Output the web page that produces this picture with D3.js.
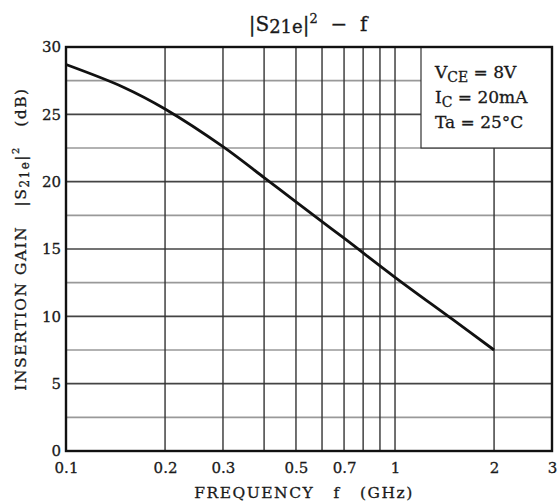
<!DOCTYPE html>
<html>
<head>
<meta charset="utf-8">
<script src="https://cdn.jsdelivr.net/npm/d3@7"></script>
<style>
  body { margin: 0; background: #fff; }
  text { font-family: "DejaVu Serif", "Liberation Serif", serif; fill: #1a1a1a; stroke: #1a1a1a; stroke-width: 0.3px; }
</style>
</head>
<body>
<div id="chart"></div>
<script>
// Curve values
const freqs = [0.1, 0.15, 0.2, 0.3, 0.4, 0.5, 0.7, 1, 1.5, 2];
const gains = [28.7, 27.0, 25.4, 22.6, 20.3, 18.5, 15.8, 12.9, 9.75, 7.5];

// Axis ticks and grid
const xTickValues = [0.1, 0.2, 0.3, 0.5, 0.7, 1, 2, 3];
const xGridValues = [0.2, 0.3, 0.4, 0.5, 0.6, 0.7, 0.8, 0.9, 1, 2];
const yTickValues = [0, 5, 10, 15, 20, 25, 30];
const yMinorValues = [2.5, 7.5, 12.5, 17.5, 22.5, 27.5];

const width = 557;
const height = 504;
const margin = {top: 47, right: 5, bottom: 53, left: 66};

const svg = d3.select("#chart")
  .append("svg")
  .attr("width", width)
  .attr("height", height);

const x = d3.scaleLog()
  .domain([0.1, 3])
  .range([margin.left, width - margin.right]);

const y = d3.scaleLinear()
  .domain([0, 30])
  .range([height - margin.bottom, margin.top]);

// Minor horizontal grid (lighter)
svg.selectAll("line.ymin")
  .data(yMinorValues)
  .enter()
  .append("line")
  .attr("x1", x(0.1)).attr("x2", x(3))
  .attr("y1", d => y(d)).attr("y2", d => y(d))
  .attr("stroke", "#999")
  .attr("stroke-width", 1.6);

// Major horizontal grid
svg.selectAll("line.ymaj")
  .data(yTickValues)
  .enter()
  .append("line")
  .attr("x1", x(0.1)).attr("x2", x(3))
  .attr("y1", d => y(d)).attr("y2", d => y(d))
  .attr("stroke", "#444")
  .attr("stroke-width", 1.6);

// Vertical grid
svg.selectAll("line.xg")
  .data(xGridValues)
  .enter()
  .append("line")
  .attr("x1", d => x(d)).attr("x2", d => x(d))
  .attr("y1", y(0)).attr("y2", y(30))
  .attr("stroke", "#333")
  .attr("stroke-width", 1.4);

// Condition box (covers grid in the top right)
const boxLeft = 421;
svg.append("rect")
  .attr("x", boxLeft)
  .attr("y", y(30))
  .attr("width", x(3) - boxLeft)
  .attr("height", y(22.5) - y(30))
  .attr("fill", "#fff")
  .attr("stroke", "#333")
  .attr("stroke-width", 1.2);

const cond = svg.append("g").attr("font-size", 17);
const c1 = cond.append("text").attr("x", 435).attr("y", 78);
c1.append("tspan").text("V");
c1.append("tspan").attr("dy", 4).attr("font-size", 14).text("CE");
c1.append("tspan").attr("dy", -4).text(" = 8V");
const c2 = cond.append("text").attr("x", 435).attr("y", 103);
c2.append("tspan").text("I");
c2.append("tspan").attr("dy", 4).attr("font-size", 14).text("C");
c2.append("tspan").attr("dy", -4).text(" = 20mA");
cond.append("text").attr("x", 435).attr("y", 128).text("Ta = 25\u00b0C");

// Curve
const line = d3.line()
  .x((d, i) => x(freqs[i]))
  .y(d => y(d))
  .curve(d3.curveCatmullRom.alpha(0.5));

svg.append("path")
  .datum(gains)
  .attr("fill", "none")
  .attr("stroke", "#111")
  .attr("stroke-width", 2.8)
  .attr("d", line);

// Frame
svg.append("rect")
  .attr("x", x(0.1))
  .attr("y", y(30))
  .attr("width", x(3) - x(0.1))
  .attr("height", y(0) - y(30))
  .attr("fill", "none")
  .attr("stroke", "#111")
  .attr("stroke-width", 2.4);

// Axes (labels only)
const xAxis = svg.append("g")
  .attr("transform", `translate(0,${y(0)})`)
  .call(d3.axisBottom(x).tickValues(xTickValues).tickFormat(d3.format("")).tickSize(0).tickPadding(11));
xAxis.select(".domain").remove();
xAxis.selectAll("text")
  .attr("font-size", 15)
  .attr("font-family", "DejaVu Serif")
  .attr("fill", "#1a1a1a");

const yAxis = svg.append("g")
  .attr("transform", `translate(${x(0.1)},0)`)
  .call(d3.axisLeft(y).tickValues(yTickValues).tickSize(0).tickPadding(5));
yAxis.select(".domain").remove();
yAxis.selectAll("text")
  .attr("font-size", 15)
  .attr("font-family", "DejaVu Serif")
  .attr("fill", "#1a1a1a");

// Title
const title = svg.append("text")
  .attr("x", 308).attr("y", 31)
  .attr("text-anchor", "middle")
  .attr("font-size", 20)
  .attr("xml:space", "preserve");
title.append("tspan").text("|S");
title.append("tspan").attr("dy", 2).attr("font-size", 18).text("21e");
title.append("tspan").attr("dy", -2).text("|");
title.append("tspan").attr("dy", -8).attr("font-size", 13).text("2");
title.append("tspan").attr("dy", 8).text("  \u2212  f");

// X label
svg.append("text")
  .attr("x", 304).attr("y", 498)
  .attr("text-anchor", "middle")
  .attr("font-size", 15.5)
  .attr("letter-spacing", 1.5)
  .attr("xml:space", "preserve")
  .text("FREQUENCY   f   (GHz)");

// Y label
const ylab = svg.append("text")
  .attr("transform", "translate(26,239) rotate(-90)")
  .attr("text-anchor", "middle")
  .attr("font-size", 15.5)
  .attr("letter-spacing", 1.5)
  .attr("xml:space", "preserve");
ylab.append("tspan").text("INSERTION GAIN   |S");
ylab.append("tspan").attr("dy", 3).attr("font-size", 12).text("21e");
ylab.append("tspan").attr("dy", -3).text("|");
ylab.append("tspan").attr("dy", -7).attr("font-size", 10).text("2");
ylab.append("tspan").attr("dy", 7).text("   (dB)");
</script>
</body>
</html>
